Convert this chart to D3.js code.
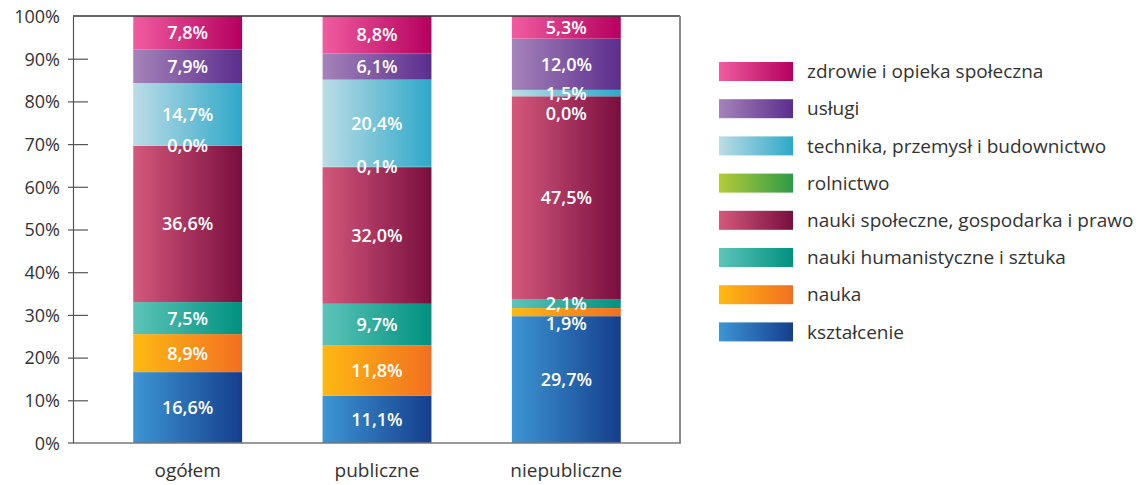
<!DOCTYPE html>
<html>
<head>
<meta charset="utf-8">
<script src="https://cdn.jsdelivr.net/npm/d3@7"></script>
<style>
  body { margin: 0; background: #fff; }
  text { font-family: "Open Sans", "Noto Sans", sans-serif; }
</style>
</head>
<body>
<svg id="chart" width="1143" height="485"></svg>
<script>
// categories (bars)
var groups = ["ogółem", "publiczne", "niepubliczne"];
// series, bottom to top of the stack
var series = ["kształcenie", "nauka", "nauki humanistyczne i sztuka",
  "nauki społeczne, gospodarka i prawo", "rolnictwo",
  "technika, przemysł i budownictwo", "usługi", "zdrowie i opieka społeczna"];
// values per series, one per group
var ksztalcenie = [16.6, 11.1, 29.7];
var nauka = [8.9, 11.8, 1.9];
var humanistyczne = [7.5, 9.7, 2.1];
var spoleczne = [36.6, 32.0, 47.5];
var rolnictwo = [0.0, 0.1, 0.0];
var technika = [14.7, 20.4, 1.5];
var uslugi = [7.9, 6.1, 12.0];
var zdrowie = [7.8, 8.8, 5.3];
var yTicks = [0, 10, 20, 30, 40, 50, 60, 70, 80, 90, 100];

// gradient colours left -> right
var colors = [
  ["#3d96d3", "#153e8c"],
  ["#fdb913", "#f26f21"],
  ["#5cc4b8", "#00917f"],
  ["#d4587c", "#790e3e"],
  ["#b5cb37", "#2e9a48"],
  ["#bcdce6", "#2da8c9"],
  ["#a583b9", "#5b2d8e"],
  ["#f05ca0", "#b5005e"]
];

var values = [ksztalcenie, nauka, humanistyczne, spoleczne, rolnictwo, technika, uslugi, zdrowie];
var table = groups.map(function(g, i) {
  var row = {group: g};
  series.forEach(function(s, j) { row[s] = values[j][i]; });
  return row;
});

var svg = d3.select("#chart");
var defs = svg.append("defs");
colors.forEach(function(c, i) {
  var lg = defs.append("linearGradient").attr("id", "grad" + i)
    .attr("x1", "0%").attr("x2", "100%").attr("y1", "0%").attr("y2", "0%");
  lg.append("stop").attr("offset", "0%").attr("stop-color", c[0]);
  lg.append("stop").attr("offset", "100%").attr("stop-color", c[1]);
});

var plot = {left: 73, right: 680, top: 16, bottom: 443};

var x = d3.scaleBand().domain(groups)
  .range([93, 661]).paddingInner(0.425).paddingOuter(0.2125);
var y = d3.scaleLinear().domain([0, 100]).range([plot.bottom, plot.top]);

var stack = d3.stack().keys(series)(table);

// bars
var layer = svg.selectAll(".layer").data(stack).enter().append("g")
  .attr("class", "layer")
  .attr("fill", function(d, i) { return "url(#grad" + i + ")"; });

layer.selectAll("rect").data(function(d) { return d; }).enter().append("rect")
  .attr("x", function(d) { return x(d.data.group); })
  .attr("width", x.bandwidth())
  .attr("y", function(d) { return y(d[1]); })
  .attr("height", function(d) { return y(d[0]) - y(d[1]); });

// frame
svg.append("line")
  .attr("x1", plot.left).attr("x2", plot.right)
  .attr("y1", plot.top).attr("y2", plot.top)
  .attr("stroke", "#333").attr("stroke-width", 1.5);
svg.append("line")
  .attr("x1", plot.right).attr("x2", plot.right)
  .attr("y1", plot.top).attr("y2", plot.bottom)
  .attr("stroke", "#8a8a8a").attr("stroke-width", 2);
svg.append("line")
  .attr("x1", 68).attr("x2", plot.right + 1)
  .attr("y1", plot.bottom).attr("y2", plot.bottom)
  .attr("stroke", "#777").attr("stroke-width", 1.5);

// y axis
var yAxis = svg.append("g")
  .attr("transform", "translate(" + plot.left + ",0)")
  .call(d3.axisLeft(y).tickValues(yTicks).tickSize(0)
    .tickFormat(function(d) { return d + "%"; }));
yAxis.select(".domain").attr("stroke", "#555").attr("stroke-width", 1.2);
yAxis.selectAll(".tick text")
  .attr("x", -13).attr("dy", "0.35em")
  .attr("font-size", 18).attr("fill", "#333");
yAxis.selectAll(".tick").filter(function(d) { return d > 0 && d < 100; })
  .append("line").attr("x1", -5).attr("x2", 15)
  .attr("stroke", "#555").attr("stroke-width", 1.2);

// x labels
svg.append("g").selectAll("text").data(groups).enter().append("text")
  .attr("x", function(d) { return x(d) + x.bandwidth() / 2; })
  .attr("y", 477)
  .attr("text-anchor", "middle")
  .attr("font-size", 19).attr("fill", "#333")
  .text(function(d) { return d; });

// value labels, pushed apart when they collide
var fmt = function(v) { return v.toFixed(1).replace(".", ",") + "%"; };
groups.forEach(function(g, gi) {
  var labels = stack.map(function(s) {
    var d = s[gi];
    return {v: d[1] - d[0], cy: y((d[0] + d[1]) / 2)};
  }).reverse();
  for (var i = 1; i < labels.length; i++) {
    if (labels[i].cy - labels[i - 1].cy < 20) labels[i].cy = labels[i - 1].cy + 20;
  }
  svg.append("g").selectAll("text").data(labels).enter().append("text")
    .attr("x", x(g) + x.bandwidth() / 2)
    .attr("y", function(d) { return d.cy; })
    .attr("dy", "0.36em")
    .attr("text-anchor", "middle")
    .attr("font-size", 18).attr("font-weight", 600).attr("fill", "#fff")
    .text(function(d) { return fmt(d.v); });
});

// legend, top to bottom
var legend = svg.append("g").selectAll("g")
  .data(series.slice().reverse()).enter().append("g")
  .attr("transform", function(d, i) { return "translate(719," + (62 + i * 37.2) + ")"; });
legend.append("rect")
  .attr("width", 74).attr("height", 19)
  .attr("fill", function(d) { return "url(#grad" + series.indexOf(d) + ")"; });
legend.append("text")
  .attr("x", 88).attr("y", 9.5).attr("dy", "0.35em")
  .attr("font-size", 19).attr("fill", "#333")
  .text(function(d) { return d; });
</script>
</body>
</html>
